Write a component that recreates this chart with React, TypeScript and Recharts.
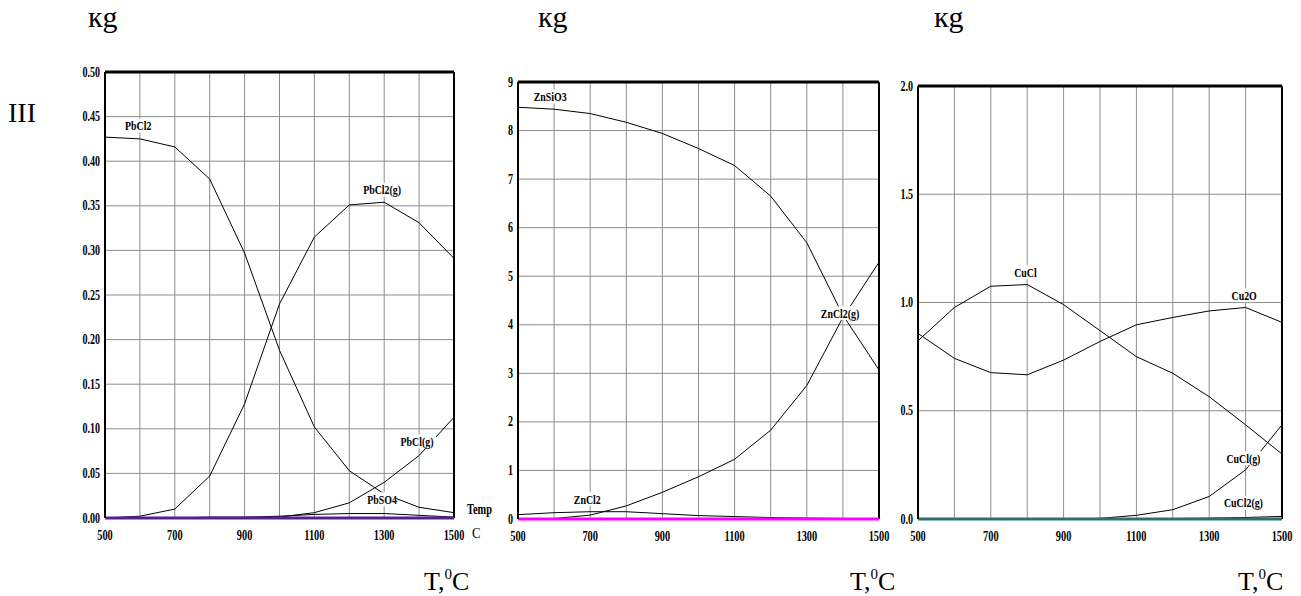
import React from "react";
import {
  LineChart,
  Line,
  XAxis,
  YAxis,
  CartesianGrid,
  ReferenceLine,
  ReferenceDot,
} from "recharts";

// temperature steps, deg C
const temps = [500, 600, 700, 800, 900, 1000, 1100, 1200, 1300, 1400, 1500];

// panel 1 - lead
const pbCl2 = [0.427, 0.425, 0.416, 0.38, 0.297, 0.188, 0.102, 0.053, 0.027, 0.012, 0.006];
const pbCl2g = [0.0, 0.002, 0.01, 0.047, 0.128, 0.24, 0.315, 0.351, 0.354, 0.331, 0.291];
const pbClg = [0, 0, 0, 0, 0, 0.001, 0.006, 0.017, 0.04, 0.07, 0.113];
const pbSO4 = [0, 0, 0, 0.001, 0.001, 0.002, 0.004, 0.005, 0.005, 0.003, 0.001];
const pbBase = [0, 0, 0, 0, 0, 0, 0, 0, 0, 0, 0];

// panel 2 - zinc
const znSiO3 = [8.48, 8.44, 8.35, 8.17, 7.94, 7.63, 7.28, 6.65, 5.69, 4.2, 3.07];
const znCl2g = [0.0, 0.01, 0.08, 0.27, 0.55, 0.87, 1.23, 1.83, 2.75, 4.15, 5.29];
const znCl2 = [0.09, 0.13, 0.15, 0.15, 0.11, 0.07, 0.05, 0.03, 0.02, 0.01, 0.01];
const znBase = [0, 0, 0, 0, 0, 0, 0, 0, 0, 0, 0];

// panel 3 - copper
const cuCl = [0.823, 0.977, 1.075, 1.083, 0.99, 0.87, 0.75, 0.673, 0.565, 0.435, 0.3];
const cu2O = [0.857, 0.742, 0.676, 0.666, 0.734, 0.82, 0.897, 0.931, 0.961, 0.977, 0.908];
const cuClg = [0, 0, 0, 0, 0, 0.003, 0.017, 0.043, 0.104, 0.227, 0.435];
const cuCl2g = [0, 0, 0, 0, 0, 0, 0.001, 0.002, 0.004, 0.007, 0.012];
const cuBase = [0, 0, 0, 0, 0, 0, 0, 0, 0, 0, 0];

// axis ticks
const xGridTicks = [500, 600, 700, 800, 900, 1000, 1100, 1200, 1300, 1400, 1500];
const xLabelTicks = [500, 700, 900, 1100, 1300, 1500];
const pbTicks = [0, 0.05, 0.1, 0.15, 0.2, 0.25, 0.3, 0.35, 0.4, 0.45, 0.5];
const znTicks = [0, 1, 2, 3, 4, 5, 6, 7, 8, 9];
const cuTicks = [0, 0.5, 1, 1.5, 2];

// curve labels: [text, temperature, value]
const pbLabels: [string, number, number][] = [
  ["PbCl2", 595, 0.44],
  ["PbCl2(g)", 1294, 0.368],
  ["PbCl(g)", 1394, 0.086],
  ["PbSO4", 1294, 0.021],
];
const znLabels: [string, number, number][] = [
  ["ZnSiO3", 589, 8.7],
  ["ZnCl2", 692, 0.41],
  ["ZnCl2(g)", 1392, 4.24],
];
const cuLabels: [string, number, number][] = [
  ["CuCl", 795, 1.14],
  ["Cu2O", 1396, 1.034],
  ["CuCl(g)", 1394, 0.281],
  ["CuCl2(g)", 1394, 0.074],
];

const FONT = "'Liberation Serif', 'Times New Roman', serif";

const makeYTick = (digits: number) => (props: any) => {
  const { x, y, payload } = props;
  return (
    <text
      transform={`translate(${x},${y}) scale(0.72,1)`}
      textAnchor="end"
      dy={4.5}
      fontFamily={FONT}
      fontWeight="bold"
      fontSize={14}
      fill="#000"
    >
      {Number(payload.value).toFixed(digits)}
    </text>
  );
};

const XTick = (props: any) => {
  const { x, y, payload } = props;
  if (!xLabelTicks.includes(payload.value)) return <g />;
  return (
    <text
      transform={`translate(${x},${y + 16}) scale(0.74,1)`}
      textAnchor="middle"
      fontFamily={FONT}
      fontWeight="bold"
      fontSize={14}
      fill="#000"
    >
      {payload.value}
    </text>
  );
};

const makeTag = (text: string) => (props: any) => {
  const { cx, cy } = props;
  const w = text.length * 4.7 + 5;
  return (
    <g>
      <rect x={cx - w / 2} y={cy - 7} width={w} height={14} fill="#fff" />
      <text
        transform={`translate(${cx},${cy + 4.5}) scale(0.76,1)`}
        textAnchor="middle"
        fontFamily={FONT}
        fontWeight="bold"
        fontSize={13}
        fill="#000"
      >
        {text}
      </text>
    </g>
  );
};

interface PanelProps {
  left: number;
  width: number;
  margin: { top: number; right: number; bottom: number; left: number };
  yWidth: number;
  yMax: number;
  yTicks: number[];
  digits: number;
  series: number[][];
  base: number[];
  baseColor: string;
  labels: [string, number, number][];
}

const Panel: React.FC<PanelProps> = ({
  left,
  width,
  margin,
  yWidth,
  yMax,
  yTicks,
  digits,
  series,
  base,
  baseColor,
  labels,
}) => {
  const data = temps.map((t, i) => {
    const row: any = { t, base: base[i] };
    series.forEach((s, k) => (row["s" + k] = s[i]));
    return row;
  });

  return (
    <div style={{ position: "absolute", left, top: 0 }}>
      <LineChart width={width} height={596} data={data} margin={margin}>
        <CartesianGrid stroke="#8c8c8c" strokeWidth={1} />
        <XAxis
          dataKey="t"
          type="number"
          domain={[500, 1500]}
          ticks={xGridTicks}
          interval={0}
          axisLine={false}
          tickLine={false}
          tickSize={0}
          tickMargin={6}
          height={30}
          tick={<XTick />}
        />
        <YAxis
          type="number"
          domain={[0, yMax]}
          ticks={yTicks}
          interval={0}
          width={yWidth}
          axisLine={{ stroke: "#000", strokeWidth: 2 }}
          tickLine={false}
          tickSize={0}
          tickMargin={5}
          tick={makeYTick(digits)}
        />
        <ReferenceLine y={yMax} stroke="#000" strokeWidth={3} />
        <ReferenceLine x={1500} stroke="#000" strokeWidth={2} />
        {series.map((_, k) => (
          <Line
            key={k}
            dataKey={"s" + k}
            type="linear"
            stroke="#000"
            strokeWidth={1}
            dot={false}
            isAnimationActive={false}
          />
        ))}
        <Line
          dataKey="base"
          type="linear"
          stroke={baseColor}
          strokeWidth={3}
          dot={false}
          isAnimationActive={false}
        />
        {labels.map(([text, t, v]) => (
          <ReferenceDot key={text} x={t} y={v} r={0} shape={makeTag(text)} />
        ))}
      </LineChart>
    </div>
  );
};

const TempLabel = ({ x }: { x: number }) => (
  <text x={x} y={590} fontFamily={FONT} fontSize={26} fill="#000">
    T,
    <tspan fontSize={15} dy={-11}>
      0
    </tspan>
    <tspan dy={11}>C</tspan>
  </text>
);

export default function App() {
  return (
    <div
      style={{
        position: "absolute",
        left: 0,
        top: 0,
        width: 1301,
        height: 596,
        background: "#fff",
        overflow: "hidden",
      }}
    >
      <Panel
        left={0}
        width={480}
        margin={{ top: 72, right: 26, bottom: 48, left: 65 }}
        yWidth={40}
        yMax={0.5}
        yTicks={pbTicks}
        digits={2}
        series={[pbCl2, pbCl2g, pbClg, pbSO4]}
        base={pbBase}
        baseColor="#5a1f8c"
        labels={pbLabels}
      />
      <Panel
        left={480}
        width={420}
        margin={{ top: 82, right: 21, bottom: 47, left: 8 }}
        yWidth={30}
        yMax={9}
        yTicks={znTicks}
        digits={0}
        series={[znSiO3, znCl2g, znCl2]}
        base={znBase}
        baseColor="#ff00ff"
        labels={znLabels}
      />
      <Panel
        left={880}
        width={421}
        margin={{ top: 86, right: 19, bottom: 47, left: 8 }}
        yWidth={30}
        yMax={2}
        yTicks={cuTicks}
        digits={1}
        series={[cuCl, cu2O, cuClg, cuCl2g]}
        base={cuBase}
        baseColor="#2b6f70"
        labels={cuLabels}
      />
      <svg
        width={1301}
        height={596}
        style={{ position: "absolute", left: 0, top: 0, pointerEvents: "none" }}
      >
        <text x={88} y={27} fontFamily={FONT} fontSize={30} fill="#000">кg</text>
        <text x={538} y={27} fontFamily={FONT} fontSize={30} fill="#000">кg</text>
        <text x={934} y={27} fontFamily={FONT} fontSize={30} fill="#000">кg</text>
        <text x={8} y={122} fontFamily={FONT} fontSize={28} fill="#000">III</text>
        <text
          transform="translate(467,514) scale(0.74,1)"
          fontFamily={FONT}
          fontWeight="bold"
          fontSize={14}
          fill="#000"
        >
          Temp
        </text>
        <text
          transform="translate(472,538) scale(0.85,1)"
          fontFamily={FONT}
          fontSize={15}
          fill="#000"
        >
          C
        </text>
        <TempLabel x={424} />
        <TempLabel x={850} />
        <TempLabel x={1238} />
      </svg>
    </div>
  );
}
